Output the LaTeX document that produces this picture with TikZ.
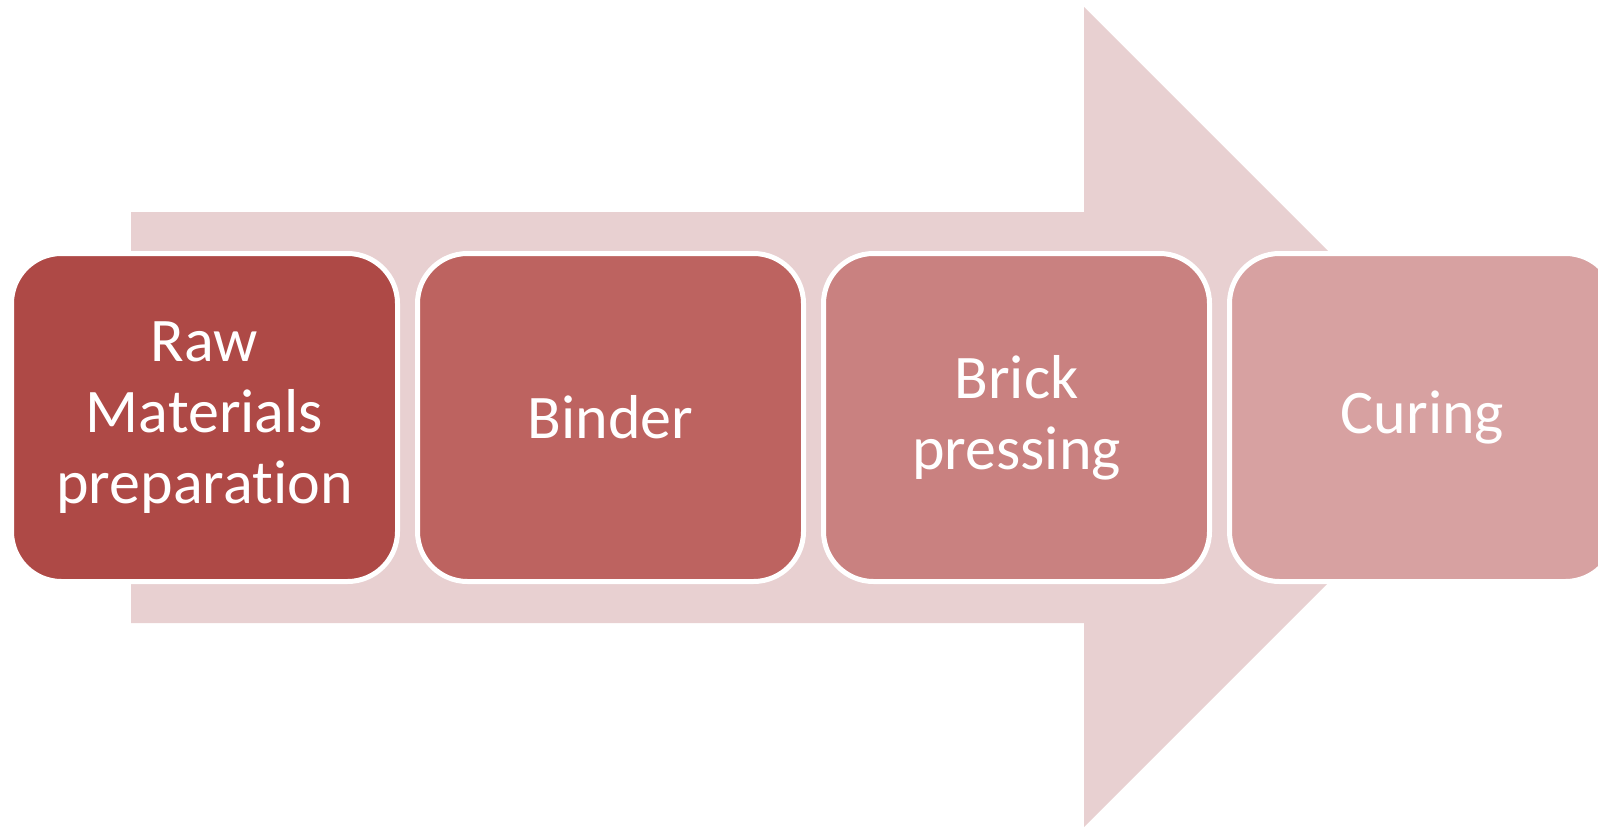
\documentclass[tikz,border=0pt]{standalone}
\usepackage{fontspec}
\setmainfont[Ligatures={NoCommon,NoRare}]{Carlito}
\definecolor{arrowc}{HTML}{E8D0D1}
\definecolor{boxa}{HTML}{AE4946}
\definecolor{boxb}{HTML}{BD6360}
\definecolor{boxc}{HTML}{C98180}
\definecolor{boxd}{HTML}{D7A1A1}
\tikzset{
  stage/.style={draw=white, line width=5pt, rounded corners=50pt,
    minimum width=386pt, minimum height=328pt, inner sep=0pt,
    text=white, align=center, font=\fontsize{62}{71}\selectfont}
}
\begin{document}
\begin{tikzpicture}[x=1pt,y=-1pt]
\useasboundingbox (0,0) rectangle (1598,827);
\clip (0,0) rectangle (1598,827);
\fill[arrowc] (131,212) -- (1084,212) -- (1084,7) -- (1494,417) -- (1084,827) -- (1084,623) -- (131,623) -- cycle;
\node[stage, fill=boxa] (s1) at (204.5,417.5) {Raw\\Materials\\preparation};
\node[stage, fill=boxb] (s2) at (610.5,417.5) {Binder};
\node[stage, fill=boxc] (s3) at (1016.5,417.5) {Brick\\pressing};
\node[stage, fill=boxd] (s4) at (1422.5,417.5) {Curing};
\end{tikzpicture}
\end{document}
